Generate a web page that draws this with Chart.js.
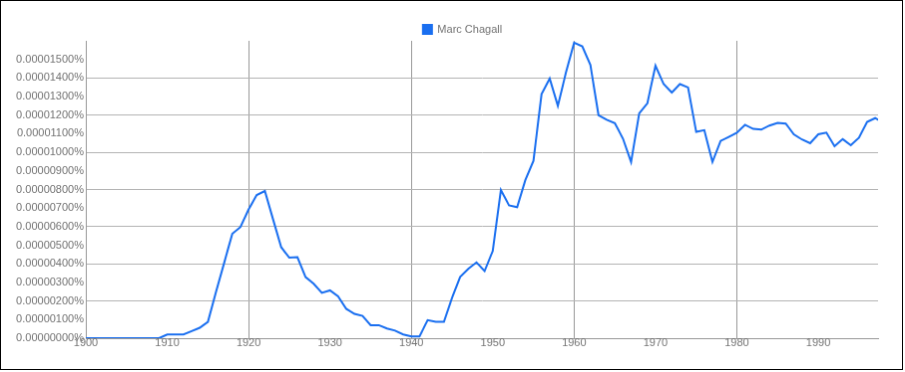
<!DOCTYPE html>
<html>
<head>
<meta charset="utf-8">
<script src="https://cdn.jsdelivr.net/npm/chart.js@4/dist/chart.umd.min.js"></script>
<style>
    body { margin: 0; background: #fff; }
    #chart { display: block; border: 1px solid #000; }
</style>
</head>
<body>
<canvas id="chart" width="903" height="370"></canvas>
<script>
// years shown on the x axis
const years = [
    1900, 1901, 1902, 1903, 1904, 1905, 1906, 1907, 1908, 1909,
    1910, 1911, 1912, 1913, 1914, 1915, 1916, 1917, 1918, 1919,
    1920, 1921, 1922, 1923, 1924, 1925, 1926, 1927, 1928, 1929,
    1930, 1931, 1932, 1933, 1934, 1935, 1936, 1937, 1938, 1939,
    1940, 1941, 1942, 1943, 1944, 1945, 1946, 1947, 1948, 1949,
    1950, 1951, 1952, 1953, 1954, 1955, 1956, 1957, 1958, 1959,
    1960, 1961, 1962, 1963, 1964, 1965, 1966, 1967, 1968, 1969,
    1970, 1971, 1972, 1973, 1974, 1975, 1976, 1977, 1978, 1979,
    1980, 1981, 1982, 1983, 1984, 1985, 1986, 1987, 1988, 1989,
    1990, 1991, 1992, 1993, 1994, 1995, 1996, 1997, 1998
];

// frequency, in units of 0.000001 %
const chagall = [
    0, 0, 0, 0, 0, 0, 0, 0, 0, 0,
    0.2, 0.2, 0.2, 0.38, 0.56, 0.88, 2.5, 4.06, 5.62, 5.98,
    6.93, 7.7, 7.92, 6.4, 4.9, 4.33, 4.36, 3.29, 2.93, 2.44,
    2.57, 2.25, 1.58, 1.31, 1.2, 0.7, 0.7, 0.52, 0.41, 0.2,
    0.1, 0.09, 0.97, 0.88, 0.88, 2.17, 3.3, 3.73, 4.08, 3.61,
    4.69, 7.97, 7.15, 7.05, 8.5, 9.54, 13.13, 13.97, 12.5, 14.3,
    15.9, 15.7, 14.7, 12.0, 11.75, 11.57, 10.74, 9.48, 12.1, 12.64,
    14.66, 13.67, 13.22, 13.67, 13.49, 11.1, 11.19, 9.48, 10.61, 10.83,
    11.05, 11.48, 11.26, 11.22, 11.44, 11.58, 11.55, 10.97, 10.69, 10.49,
    10.97, 11.06, 10.33, 10.71, 10.38, 10.79, 11.64, 11.84, 11.6
];

const seriesName = 'Marc Chagall';
const unit = 0.000001; // one step of the y axis, in percent

const blue = '#1a6ff0';
const textGray = '#737373';
const font = { family: 'Liberation Sans, Arial, sans-serif', size: 11 };

// the legend sits a bit right of and below where chart.js would put it
const legendShift = {
    id: 'legendShift',
    afterLayout(chart) {
        const l = chart.legend;
        l.left += 18; l.right += 18;
        l.top += 4; l.bottom += 4;
    }
};

new Chart(document.getElementById('chart'), {
    type: 'line',
    data: {
        datasets: [{
            label: seriesName,
            data: years.map((y, i) => ({ x: y, y: chagall[i] })),
            borderColor: blue,
            backgroundColor: blue,
            borderWidth: 2,
            pointRadius: 0,
            tension: 0
        }]
    },
    options: {
        responsive: false,
        animation: false,
        layout: { padding: { left: 10, right: 24, top: 13, bottom: 0 } },
        plugins: {
            legend: {
                position: 'top',
                labels: {
                    boxWidth: 9,
                    boxHeight: 9,
                    padding: 6,
                    color: textGray,
                    font: font
                }
            },
            tooltip: { enabled: false }
        },
        scales: {
            x: {
                type: 'linear',
                min: 1900,
                max: 1997.35,
                afterFit: s => { s.height = 31; },
                ticks: {
                    stepSize: 10,
                    includeBounds: false,
                    padding: -2,
                    maxRotation: 0,
                    autoSkip: false,
                    color: textGray,
                    font: font,
                    callback: v => String(v)
                },
                grid: {
                    drawTicks: false,
                    color: ctx => (ctx.tick && ctx.tick.value % 20 === 0 && ctx.tick.value !== 1900) ? '#999999' : 'rgba(0,0,0,0)'
                },
                border: { color: '#999999' }
            },
            y: {
                min: 0,
                max: 16,
                afterFit: s => { s.width = 75; },
                ticks: {
                    stepSize: 1,
                    padding: 2,
                    color: textGray,
                    font: font,
                    callback: v => v >= 16 ? '' : (v * unit).toFixed(8) + '%'
                },
                grid: {
                    drawTicks: false,
                    color: ctx => (ctx.index % 2 === 0 && ctx.tick.value < 16) ? '#b4b4b4' : 'rgba(0,0,0,0)'
                },
                border: { color: '#999999' }
            }
        }
    },
    plugins: [legendShift]
});
</script>
</body>
</html>
